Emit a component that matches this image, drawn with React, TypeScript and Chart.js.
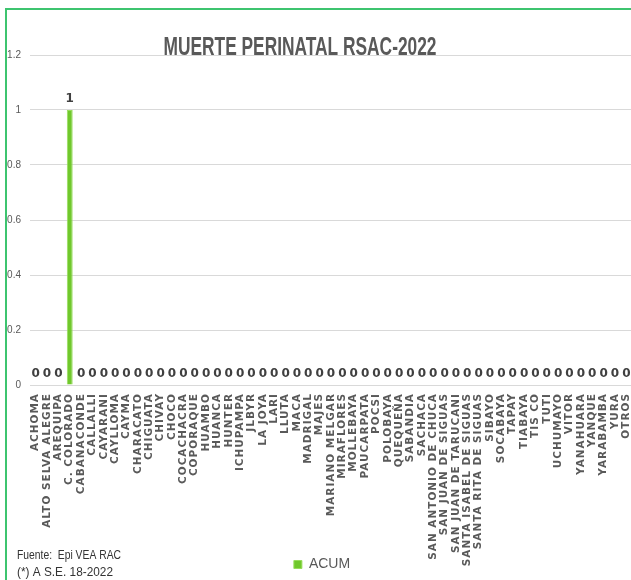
import React, { useEffect, useRef } from "react";
import { Chart, registerables } from "chart.js";

Chart.register(...registerables);

const categories = [
  "ACHOMA", "ALTO SELVA ALEGRE", "AREQUIPA", "C. COLORADO", "CABANACONDE", "CALLALLI",
  "CAYARANI", "CAYLLOMA", "CAYMA", "CHARACATO", "CHIGUATA", "CHIVAY", "CHOCO",
  "COCACHACRA", "COPORAQUE", "HUAMBO", "HUANCA", "HUNTER", "ICHUPAMPA", "JLBYR",
  "LA JOYA", "LARI", "LLUTA", "MACA", "MADRIGAL", "MAJES", "MARIANO MELGAR",
  "MIRAFLORES", "MOLLEBAYA", "PAUCARPATA", "POCSI", "POLOBAYA", "QUEQUEÑA",
  "SABANDIA", "SACHACA", "SAN ANTONIO DE CHUCA", "SAN JUAN DE SIGUAS",
  "SAN JUAN DE TARUCANI", "SANTA ISABEL DE SIGUAS", "SANTA RITA DE SIGUAS", "SIBAYO",
  "SOCABAYA", "TAPAY", "TIABAYA", "TIS CO", "TUTI", "UCHUMAYO", "VITOR", "YANAHUARA",
  "YANQUE", "YARABAMBA", "YURA", "OTROS",
];

const acumValues = [
  0, 0, 0, 1, 0, 0,
  0, 0, 0, 0, 0, 0, 0,
  0, 0, 0, 0, 0, 0, 0,
  0, 0, 0, 0, 0, 0, 0,
  0, 0, 0, 0, 0, 0,
  0, 0, 0, 0,
  0, 0, 0, 0,
  0, 0, 0, 0, 0, 0, 0, 0,
  0, 0, 0, 0,
];

const yTicks = [0, 0.2, 0.4, 0.6, 0.8, 1, 1.2];
const yTickLabels = ["0", "0.2", "0.4", "0.6", "0.8", "1", "1.2"];
const seriesName = "ACUM";
const titleText = "MUERTE PERINATAL RSAC-2022";
const footerLines = ["Fuente:  Epi VEA RAC", "(*) A S.E. 18-2022"];

const SANS = "'Liberation Sans', Arial, sans-serif";

function drawSqueezed(ctx: any, text: string, x: number, y: number, targetWidth: number, align: string) {
  const w = ctx.measureText(text).width;
  const sx = Math.min(1, targetWidth / w);
  ctx.save();
  ctx.translate(x, y);
  ctx.scale(sx, 1);
  ctx.textAlign = align;
  ctx.fillText(text, 0, 0);
  ctx.restore();
}

const valueLabelPlugin = {
  id: "valueLabels",
  afterDatasetsDraw(chart: any) {
    const ctx = chart.ctx;
    const meta = chart.getDatasetMeta(0);
    const data = chart.data.datasets[0].data;
    ctx.save();
    ctx.font = "bold 12px 'DejaVu Sans', sans-serif";
    ctx.fillStyle = "#404040";
    ctx.textAlign = "center";
    ctx.textBaseline = "alphabetic";
    meta.data.forEach((el: any, i: number) => {
      ctx.fillText(String(data[i]), el.x, el.y - 8);
    });
    ctx.restore();
  },
};

const xLabelSpacingPlugin = {
  id: "xLabelSpacing",
  beforeDraw(chart: any) {
    const sc = chart.scales.x;
    if (!sc || sc.__spaced) return;
    const orig = sc.drawLabels.bind(sc);
    sc._computeLabelArea = () => ({ top: sc.top, left: 0, bottom: chart.height, right: chart.width });
    sc.drawLabels = (area: any) => {
      const ctx = chart.ctx;
      ctx.save();
      ctx.letterSpacing = "1px";
      orig(area);
      ctx.restore();
    };
    sc.__spaced = true;
  },
};

const overlayTextPlugin = {
  id: "overlayText",
  afterDraw(chart: any) {
    const ctx = chart.ctx;
    ctx.save();
    ctx.font = `bold 26px ${SANS}`;
    ctx.fillStyle = "#595959";
    ctx.textBaseline = "alphabetic";
    drawSqueezed(ctx, titleText, 293, 45, 273, "center");
    ctx.restore();

    ctx.save();
    ctx.font = `13px ${SANS}`;
    ctx.fillStyle = "#333333";
    ctx.textBaseline = "alphabetic";
    drawSqueezed(ctx, footerLines[0], 10, 549, 104, "left");
    drawSqueezed(ctx, footerLines[1], 10, 566, 96, "left");
    ctx.restore();
  },
};

function BarChart() {
  const canvasRef = useRef<HTMLCanvasElement | null>(null);

  useEffect(() => {
    const canvas = canvasRef.current;
    if (!canvas) return;
    const chart = new Chart(canvas, {
      type: "bar",
      data: {
        labels: categories,
        datasets: [
          {
            label: seriesName,
            data: acumValues,
            backgroundColor: "#70c82c",
            borderColor: "#98dd5c",
            borderWidth: 1,
            barPercentage: 0.65,
            categoryPercentage: 0.8,
          },
        ],
      },
      options: {
        animation: false,
        responsive: false,
        maintainAspectRatio: false,
        layout: { padding: { top: 45, right: 10, bottom: 8.5, left: 0 } },
        plugins: {
          legend: {
            display: true,
            position: "bottom",
            labels: {
              boxWidth: 8,
              boxHeight: 8,
              padding: 6,
              color: "#595959",
              font: { family: SANS, size: 14 },
            },
          },
          title: { display: false },
          tooltip: { enabled: false },
        },
        scales: {
          x: {
            grid: { display: false, drawTicks: false },
            border: { display: false },
            ticks: {
              autoSkip: false,
              maxRotation: 90,
              minRotation: 90,
              padding: 8,
              color: "#595959",
              font: { family: "'DejaVu Sans', sans-serif", size: 10.5, weight: "bold" },
            },
            afterFit: (scale: any) => {
              scale.height = 166.5;
            },
          },
          y: {
            min: 0,
            max: 1.2,
            grid: { color: "#d9d9d9", lineWidth: 1, drawTicks: false },
            border: { display: false },
            ticks: {
              padding: 9,
              color: "#595959",
              font: { family: SANS, size: 10 },
              callback: (v: any, i: number) => yTickLabels[i],
            },
            afterBuildTicks: (scale: any) => {
              scale.ticks = yTicks.map((v) => ({ value: v }));
            },
            afterFit: (scale: any) => {
              scale.width = 23;
            },
          },
        },
      },
      plugins: [valueLabelPlugin, xLabelSpacingPlugin, overlayTextPlugin],
    });
    return () => chart.destroy();
  }, []);

  return <canvas ref={canvasRef} width={640} height={580} style={{ display: "block" }} />;
}

export default function App() {
  return (
    <div
      style={{
        position: "fixed",
        left: 0,
        top: 0,
        width: 631,
        height: 580,
        overflow: "hidden",
        background: "#ffffff",
      }}
    >
      <div
        style={{
          position: "absolute",
          left: 5,
          top: 8,
          borderLeft: "2px solid #3dc46f",
          borderTop: "2px solid #3dc46f",
          background: "#ffffff",
        }}
      >
        <BarChart />
      </div>
    </div>
  );
}
